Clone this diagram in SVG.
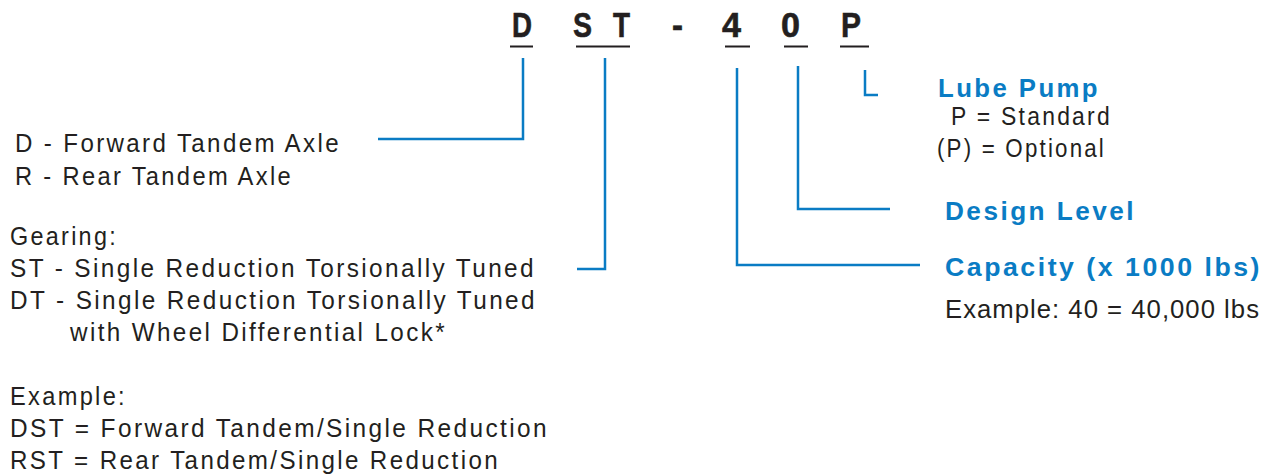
<svg xmlns="http://www.w3.org/2000/svg" width="1275" height="475" viewBox="0 0 1275 475">
<style>
.t{font-family:"Liberation Sans",Arial,sans-serif;font-size:25.5px;fill:#231f20;letter-spacing:2.5px}
.e{letter-spacing:1px}
.h{font-family:"Liberation Sans",Arial,sans-serif;font-size:26.5px;font-weight:bold;fill:#0a7cc4;letter-spacing:2.5px}
.c{font-family:"Liberation Sans",Arial,sans-serif;font-size:35px;font-weight:bold;fill:#231f20;stroke:#231f20;stroke-width:0.6}
.u{stroke:#231f20;stroke-width:2.2;fill:none}
.k{stroke:#0a7cc4;stroke-width:2.5;fill:none}
</style>
<rect width="1275" height="475" fill="#ffffff"/>
<g id="code">
<text class="c" x="512" y="37" textLength="20" lengthAdjust="spacingAndGlyphs">D</text>
<text class="c" x="573" y="37" textLength="19" lengthAdjust="spacingAndGlyphs">S</text>
<text class="c" x="613" y="37" textLength="17" lengthAdjust="spacingAndGlyphs">T</text>
<text class="c" x="672" y="37" textLength="11" lengthAdjust="spacingAndGlyphs">-</text>
<text class="c" x="722" y="37" textLength="19" lengthAdjust="spacingAndGlyphs">4</text>
<text class="c" x="781" y="37" textLength="19" lengthAdjust="spacingAndGlyphs">0</text>
<text class="c" x="841" y="37" textLength="20" lengthAdjust="spacingAndGlyphs">P</text>
<path class="u" d="M510 46.5H533M576 46.5H630M725 46.5H750M784 46.5H808M840 46.5H869"/>
</g>
<g id="connectors">
<path class="k" d="M523 58V139H378"/>
<path class="k" d="M605 58V269H577"/>
<path class="k" d="M737 68V265H920"/>
<path class="k" d="M798 66V209H890"/>
<path class="k" d="M865 70V95H878"/>
</g>
<g id="axle">
<text class="t" x="15" y="152" textLength="326" lengthAdjust="spacingAndGlyphs">D - Forward Tandem Axle</text>
<text class="t" x="15" y="185" textLength="278" lengthAdjust="spacingAndGlyphs">R - Rear Tandem Axle</text>
</g>
<g id="gearing">
<text class="t" x="10" y="245" textLength="108" lengthAdjust="spacingAndGlyphs">Gearing:</text>
<text class="t" x="10" y="277" textLength="526" lengthAdjust="spacingAndGlyphs">ST - Single Reduction Torsionally Tuned</text>
<text class="t" x="10" y="309" textLength="527" lengthAdjust="spacingAndGlyphs">DT - Single Reduction Torsionally Tuned</text>
<text class="t" x="70" y="341" textLength="377" lengthAdjust="spacingAndGlyphs">with Wheel Differential Lock*</text>
</g>
<g id="example">
<text class="t" x="10" y="405" textLength="117" lengthAdjust="spacingAndGlyphs">Example:</text>
<text class="t" x="10" y="437" textLength="539" lengthAdjust="spacingAndGlyphs">DST = Forward Tandem/Single Reduction</text>
<text class="t" x="10" y="469" textLength="490" lengthAdjust="spacingAndGlyphs">RST = Rear Tandem/Single Reduction</text>
</g>
<g id="lube-pump">
<text class="h" x="938" y="97" textLength="162" lengthAdjust="spacingAndGlyphs">Lube Pump</text>
<text class="t" x="951" y="125" textLength="161" lengthAdjust="spacingAndGlyphs">P  = Standard</text>
<text class="t" x="937" y="157" textLength="169" lengthAdjust="spacingAndGlyphs">(P) = Optional</text>
</g>
<g id="design-level">
<text class="h" x="945" y="220" textLength="191" lengthAdjust="spacingAndGlyphs">Design Level</text>
</g>
<g id="capacity">
<text class="h e" x="945" y="276" textLength="317" lengthAdjust="spacingAndGlyphs">Capacity (x 1000 lbs)</text>
<text class="t e" x="945" y="318" textLength="315" lengthAdjust="spacingAndGlyphs">Example: 40 = 40,000 lbs</text>
</g>
</svg>
